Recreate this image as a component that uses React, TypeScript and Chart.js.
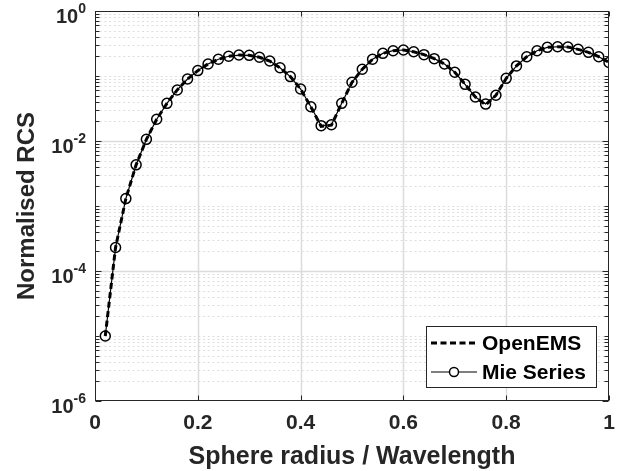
import React, { useEffect, useRef } from "react";
import { Chart, registerables } from "chart.js";

Chart.register(...registerables);

// Sphere radius in wavelengths
const radius = [
  0.02, 0.04, 0.06, 0.08, 0.1, 0.12, 0.14, 0.16, 0.18, 0.2,
  0.22, 0.24, 0.26, 0.28, 0.3, 0.32, 0.34, 0.36, 0.38, 0.4,
  0.42, 0.44, 0.46, 0.48, 0.5, 0.52, 0.54, 0.56, 0.58, 0.6,
  0.62, 0.64, 0.66, 0.68, 0.7, 0.72, 0.74, 0.76, 0.78, 0.8,
  0.82, 0.84, 0.86, 0.88, 0.9, 0.92, 0.94, 0.96, 0.98, 1.0,
];

// Analytic Mie series backscatter (normalised)
const mieRcs = [
  1.0e-5, 2.3e-4, 1.3e-3, 4.3e-3, 1.06e-2, 2.16e-2, 3.8e-2, 6.1e-2, 9.0e-2, 0.121,
  0.153, 0.181, 0.201, 0.21, 0.208, 0.194, 0.17, 0.134, 0.098, 0.063,
  0.0337, 0.0172, 0.0178, 0.038, 0.08, 0.127, 0.181, 0.223, 0.245, 0.251,
  0.236, 0.213, 0.185, 0.153, 0.114, 0.0745, 0.0475, 0.037, 0.0505, 0.092,
  0.143, 0.198, 0.245, 0.276, 0.282, 0.279, 0.257, 0.231, 0.198, 0.162,
];

// OpenEMS FDTD result (normalised)
const openEmsRcs = [
  1.0e-5, 2.3e-4, 1.3e-3, 4.3e-3, 1.06e-2, 2.16e-2, 3.8e-2, 6.1e-2, 9.0e-2, 0.121,
  0.153, 0.181, 0.201, 0.21, 0.208, 0.194, 0.17, 0.134, 0.098, 0.063,
  0.0335, 0.0168, 0.0175, 0.038, 0.08, 0.127, 0.181, 0.223, 0.245, 0.251,
  0.236, 0.213, 0.185, 0.153, 0.114, 0.0745, 0.0475, 0.036, 0.0505, 0.092,
  0.143, 0.198, 0.245, 0.276, 0.282, 0.279, 0.257, 0.231, 0.198, 0.162,
];

const xTicks = [0, 0.2, 0.4, 0.6, 0.8, 1];
const yDecadeExponents = [0, -2, -4, -6];
const seriesNames = ["OpenEMS", "Mie Series"];
const xTitle = "Sphere radius / Wavelength";
const yTitle = "Normalised RCS";

const FAMILY = '"Liberation Sans", Arial, Helvetica, sans-serif';
const INK = "#262626";
const OPEN_EMS_DASH = [6, 3.5];

const framePlugin = {
  id: "frame",
  beforeDatasetsDraw(chart: any) {
    const { ctx, chartArea: a, scales } = chart;
    const xs = scales.x;
    const ys = scales.y;
    const hLine = (py: number) => {
      ctx.beginPath();
      ctx.moveTo(a.left, py);
      ctx.lineTo(a.right, py);
      ctx.stroke();
    };
    ctx.save();
    ctx.lineWidth = 1;
    // minor (dotted) horizontal grid
    ctx.strokeStyle = "#dedede";
    ctx.setLineDash([2, 2.7]);
    for (let e = -6; e < 0; e++) {
      for (let m = 1; m <= 9; m++) {
        if (m === 1 && e % 2 === 0) continue;
        hLine(Math.round(ys.getPixelForValue(m * Math.pow(10, e))) + 0.5);
      }
    }
    // major (solid) grid
    ctx.setLineDash([]);
    ctx.strokeStyle = "#dcdcdc";
    ctx.lineWidth = 1.5;
    for (const e of yDecadeExponents) {
      if (e === 0 || e === -6) continue;
      hLine(Math.round(ys.getPixelForValue(Math.pow(10, e))) + 0.5);
    }
    for (const v of xTicks) {
      if (v === 0 || v === 1) continue;
      const px = Math.round(xs.getPixelForValue(v)) + 0.5;
      ctx.beginPath();
      ctx.moveTo(px, a.top);
      ctx.lineTo(px, a.bottom);
      ctx.stroke();
    }
    ctx.restore();
  },
  afterDatasetsDraw(chart: any) {
    const { ctx, chartArea: a, scales } = chart;
    const xs = scales.x;
    const ys = scales.y;
    const L = Math.round(a.left) + 0.5;
    const R = Math.round(a.right) - 0.5;
    const T = Math.round(a.top) + 0.5;
    const B = Math.round(a.bottom) - 0.5;
    ctx.save();
    ctx.lineWidth = 1;
    ctx.strokeStyle = INK;
    ctx.setLineDash([]);
    ctx.strokeRect(L, T, R - L, B - T);

    const seg = (x1: number, y1: number, x2: number, y2: number) => {
      ctx.beginPath();
      ctx.moveTo(x1, y1);
      ctx.lineTo(x2, y2);
      ctx.stroke();
    };
    // x ticks (inside, bottom and top)
    for (const v of xTicks) {
      const px = Math.round(xs.getPixelForValue(v)) + 0.5;
      seg(px, B, px, B - 5);
      seg(px, T, px, T + 5);
    }
    // y ticks (inside, left and right)
    for (let e = -6; e <= 0; e++) {
      for (let m = 1; m <= 9; m++) {
        if (e === 0 && m > 1) break;
        const py = Math.round(ys.getPixelForValue(m * Math.pow(10, e))) + 0.5;
        const len = m === 1 && e % 2 === 0 ? 6 : 4;
        seg(L, py, L + len, py);
        seg(R, py, R - len, py);
      }
    }

    // y tick labels 10^k
    ctx.fillStyle = INK;
    ctx.textAlign = "left";
    ctx.textBaseline = "alphabetic";
    const baseFont = `bold 20px ${FAMILY}`;
    const supFont = `bold 14px ${FAMILY}`;
    for (const e of yDecadeExponents) {
      const py = ys.getPixelForValue(Math.pow(10, e));
      const sup = String(e);
      ctx.font = supFont;
      const supW = ctx.measureText(sup).width;
      ctx.font = baseFont;
      const baseW = ctx.measureText("10").width;
      const right = 86;
      ctx.fillText("10", right - supW - baseW, py + 11.7);
      ctx.font = supFont;
      ctx.fillText(sup, right - supW, py + 2);
    }

    // legend
    const bx = 426.5, by = 326.5, bw = 170, bh = 61;
    ctx.fillStyle = "#ffffff";
    ctx.fillRect(bx, by, bw, bh);
    ctx.strokeStyle = INK;
    ctx.lineWidth = 1;
    ctx.strokeRect(bx, by, bw, bh);
    const rows = [343, 372];
    const sx1 = 431, sx2 = 477;
    ctx.strokeStyle = "#000";
    ctx.lineWidth = 3;
    ctx.setLineDash(OPEN_EMS_DASH);
    seg(sx1, rows[0], sx2, rows[0]);
    ctx.setLineDash([]);
    ctx.lineWidth = 1.2;
    seg(sx1, rows[1], sx2, rows[1]);
    ctx.beginPath();
    ctx.arc((sx1 + sx2) / 2, rows[1], 4.5, 0, Math.PI * 2);
    ctx.fillStyle = "#fff";
    ctx.fill();
    ctx.lineWidth = 1.5;
    ctx.stroke();
    ctx.fillStyle = "#000";
    ctx.font = `bold 21px ${FAMILY}`;
    ctx.textBaseline = "middle";
    seriesNames.forEach((name, i) => ctx.fillText(name, 482, rows[i] + 1));
    ctx.restore();
  },
};

export default function App() {
  const canvasRef = useRef<HTMLCanvasElement>(null);

  useEffect(() => {
    const canvas = canvasRef.current;
    if (!canvas) return;
    const chart = new Chart(canvas, {
      type: "line",
      data: {
        datasets: [
          {
            label: seriesNames[0],
            data: radius.map((r, i) => ({ x: r, y: openEmsRcs[i] })),
            borderColor: "#000",
            borderWidth: 3,
            borderDash: OPEN_EMS_DASH,
            pointRadius: 0,
            tension: 0,
            fill: false,
          },
          {
            label: seriesNames[1],
            data: radius.map((r, i) => ({ x: r, y: mieRcs[i] })),
            borderColor: "#000",
            borderWidth: 1.2,
            pointRadius: 5,
            pointBorderWidth: 1.5,
            pointBorderColor: "#000",
            pointBackgroundColor: "rgba(0,0,0,0)",
            tension: 0,
            fill: false,
          },
        ],
      },
      options: {
        responsive: false,
        animation: false,
        devicePixelRatio: 1,
        layout: { padding: { top: 11, right: 17, left: 0, bottom: 0 } },
        plugins: { legend: { display: false }, tooltip: { enabled: false } },
        scales: {
          x: {
            type: "linear",
            min: 0,
            max: 1,
            afterBuildTicks: (s: any) => {
              s.ticks = xTicks.map((v) => ({ value: v }));
            },
            afterFit: (s: any) => {
              s.height = 70;
            },
            ticks: {
              autoSkip: false,
              maxRotation: 0,
              padding: 10,
              color: INK,
              font: { family: FAMILY, size: 21, weight: "bold" },
              callback: (v: any) => String(v),
            },
            grid: { display: false, drawTicks: false },
            border: { display: false },
            title: {
              display: true,
              text: xTitle,
              color: INK,
              font: { family: FAMILY, size: 25, weight: "bold" },
              padding: { top: 0, bottom: -1 },
            },
          },
          y: {
            type: "logarithmic",
            min: 1e-6,
            max: 1,
            afterFit: (s: any) => {
              s.width = 95;
            },
            ticks: { display: false },
            grid: { display: false, drawTicks: false },
            border: { display: false },
            title: {
              display: true,
              text: yTitle,
              color: INK,
              font: { family: FAMILY, size: 24, weight: "bold" },
              padding: { top: 13, bottom: 0 },
            },
          },
        },
      },
      plugins: [framePlugin],
    } as any);
    return () => chart.destroy();
  }, []);

  return (
    <div style={{ position: "fixed", left: 0, top: 0, width: 626, height: 471, background: "#fff" }}>
      <canvas ref={canvasRef} width={626} height={471} />
    </div>
  );
}
